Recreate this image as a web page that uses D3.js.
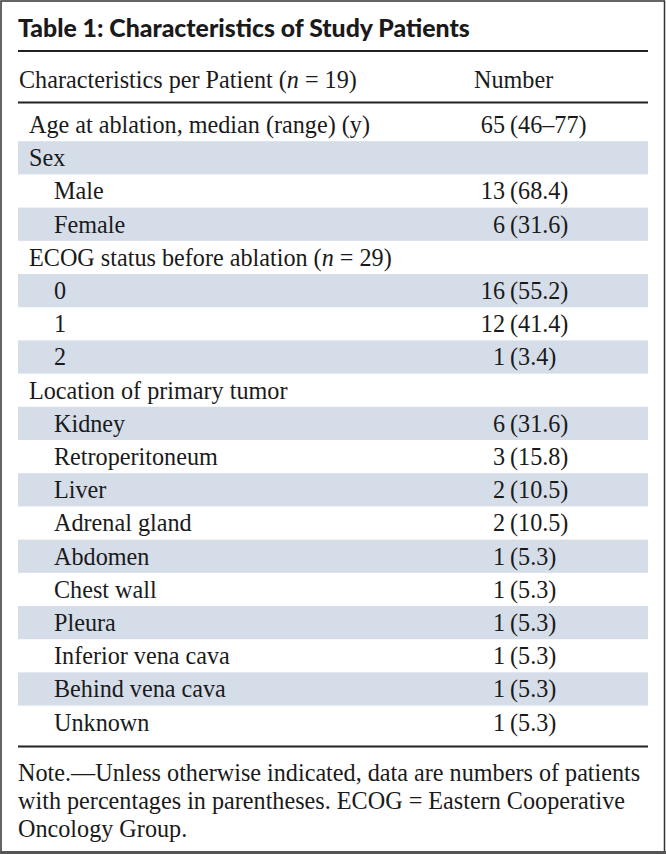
<!DOCTYPE html>
<html>
<head>
<meta charset="utf-8">
<script src="https://cdn.jsdelivr.net/npm/d3@7"></script>
<style>
  body { margin: 0; background: #fff; }
  svg text { fill: #1a1a1a; }
</style>
</head>
<body>
<div id="chart"></div>
<script>
// table content
var title = "Table 1: Characteristics of Study Patients";
var headers = ["Characteristics per Patient (*n* = 19)", "Number"];
var rowLabels = ["Age at ablation, median (range) (y)", "Sex", "Male", "Female",
  "ECOG status before ablation (*n* = 29)", "0", "1", "2",
  "Location of primary tumor", "Kidney", "Retroperitoneum", "Liver", "Adrenal gland",
  "Abdomen", "Chest wall", "Pleura", "Inferior vena cava", "Behind vena cava", "Unknown"];
var rowLevel = [0, 0, 1, 1, 0, 1, 1, 1, 0, 1, 1, 1, 1, 1, 1, 1, 1, 1, 1];
var counts = ["65", "", "13", "6", "", "16", "12", "1", "", "6", "3", "2", "2", "1", "1", "1", "1", "1", "1"];
var percents = ["(46–77)", "", "(68.4)", "(31.6)", "", "(55.2)", "(41.4)", "(3.4)", "",
  "(31.6)", "(15.8)", "(10.5)", "(10.5)", "(5.3)", "(5.3)", "(5.3)", "(5.3)", "(5.3)", "(5.3)"];
var noteLines = ["Note.—Unless otherwise indicated, data are numbers of patients",
  "with percentages in parentheses. ECOG = Eastern Cooperative",
  "Oncology Group."];

var w = 666, h = 854;
var left = 18, right = 648;

var svg = d3.select("#chart").append("svg")
  .attr("width", w)
  .attr("height", h);

// outer frame
svg.append("rect")
  .attr("x", 1).attr("y", 1)
  .attr("width", w - 2.5).attr("height", h - 3)
  .attr("fill", "none")
  .attr("stroke", "#333")
  .attr("stroke-width", 1.5);
svg.append("rect")
  .attr("x", 0).attr("y", h - 3)
  .attr("width", w).attr("height", 3)
  .attr("fill", "#555");

// write a label, *n* parts in italic
function label(sel, str) {
  str.split("*").forEach(function(part, i) {
    if (part === "") return;
    sel.append("tspan")
      .style("font-style", i % 2 ? "italic" : "normal")
      .text(part);
  });
}

var serif = "'Liberation Serif', 'DejaVu Serif', serif";
var sans = "Lato, 'DejaVu Sans', sans-serif";

// fit body font size to the header width
var probe = svg.append("text").style("font-family", serif).style("font-size", "20px");
label(probe, headers[0]);
var fs = 20 * 338 / probe.node().getComputedTextLength();
probe.remove();

var tProbe = svg.append("text")
  .style("font-family", sans)
  .style("font-weight", 900)
  .style("font-size", "20px")
  .text(title);
var tfs = 20 * 452 / tProbe.node().getComputedTextLength();
tProbe.remove();

// title
svg.append("text")
  .attr("x", left).attr("y", 37)
  .style("font-family", sans)
  .style("font-weight", 900)
  .style("font-size", tfs + "px")
  .text(title);

// rules
[51, 102.5, 746.5].forEach(function(y) {
  svg.append("line")
    .attr("x1", left).attr("x2", right)
    .attr("y1", y).attr("y2", y)
    .attr("stroke", "#222")
    .attr("stroke-width", 2);
});

// header
var hdr = svg.append("g").style("font-family", serif).style("font-size", fs + "px");
label(hdr.append("text").attr("x", 19).attr("y", 88), headers[0]);
hdr.append("text").attr("x", 474).attr("y", 88).text(headers[1]);

// rows
var y = d3.scaleBand()
  .domain(d3.range(rowLabels.length))
  .range([108, 108 + 19 * 33.2]);

var x = d3.scaleOrdinal().domain([0, 1]).range([29, 54]);
var countX = 505, pctX = 510;

var rows = svg.append("g")
  .style("font-family", serif)
  .style("font-size", fs + "px")
  .selectAll("g")
  .data(rowLabels)
  .join("g")
  .attr("transform", function(d, i) { return "translate(0," + y(i) + ")"; });

rows.filter(function(d, i) { return i % 2 === 1; })
  .append("rect")
  .attr("x", left).attr("width", right - left)
  .attr("height", y.bandwidth())
  .attr("fill", "#d5dde9");

rows.each(function(d, i) {
  var g = d3.select(this);
  var base = y.bandwidth() / 2 + 8.5;
  label(g.append("text").attr("x", x(rowLevel[i])).attr("y", base), d);
  if (counts[i] !== "") {
    g.append("text").attr("x", countX).attr("y", base)
      .attr("text-anchor", "end").text(counts[i]);
    g.append("text").attr("x", pctX).attr("y", base).text(percents[i]);
  }
});

// note
svg.append("g")
  .style("font-family", serif)
  .style("font-size", fs + "px")
  .selectAll("text")
  .data(noteLines)
  .join("text")
  .attr("x", left)
  .attr("y", function(d, i) { return 781 + i * 28; })
  .text(function(d) { return d; });
</script>
</body>
</html>
